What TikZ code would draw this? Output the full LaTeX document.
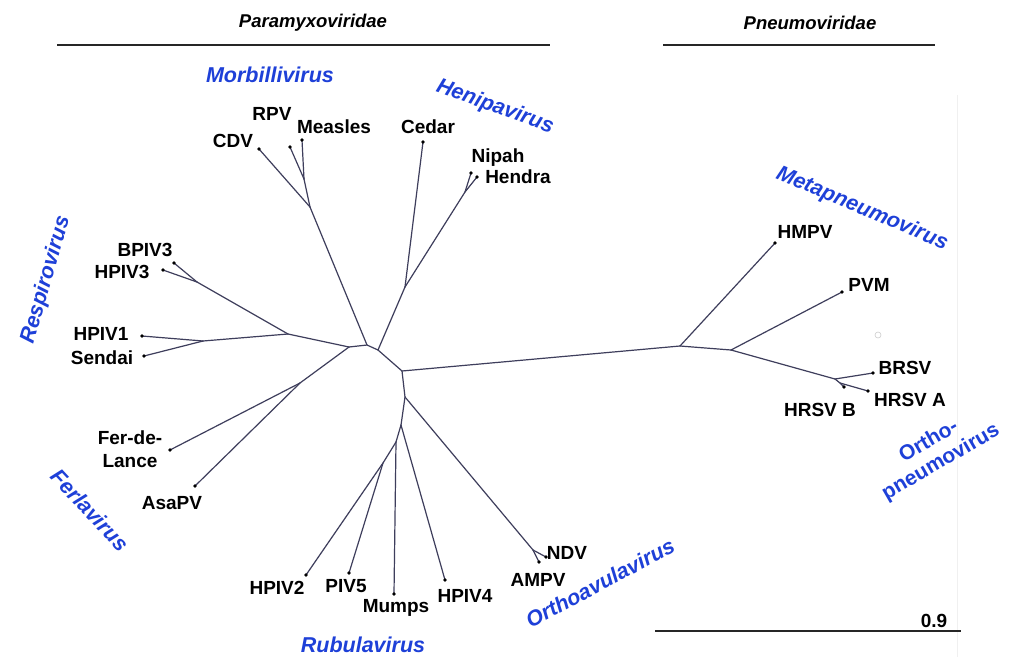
\documentclass[tikz,border=0pt]{standalone}
\usepackage{fontspec}
\setmainfont{Liberation Sans}
\definecolor{genusblue}{RGB}{30,64,216}
\definecolor{branchcol}{RGB}{62,62,92}
\begin{document}
\begin{tikzpicture}[x=1pt,y=-1pt,
  br/.style={draw=branchcol,line width=1.2pt,line cap=round,line join=round},
  leaflab/.style={font=\fontsize{19}{23}\selectfont\bfseries,inner sep=0pt,align=center},
  genus/.style={font=\fontsize{21.5}{24}\selectfont\bfseries\itshape,text=genusblue,inner sep=0pt,align=center},
  genusup/.style={font=\fontsize{21}{24}\selectfont\bfseries,text=genusblue,inner sep=0pt,align=center},
  family/.style={font=\fontsize{18.5}{22}\selectfont\bfseries\itshape,inner sep=0pt},
  rule/.style={draw=black!85,line width=1.6pt}]
\useasboundingbox (0,0) rectangle (1013,657);
\fill[white] (0,0) rectangle (1013,657);
\draw[black!6,line width=0.8pt] (957,95) -- (957,657);

% family headers
\node[family] (para) at (313,23) {Paramyxoviridae};
\coordinate (paraL) at (57,45); \coordinate (paraR) at (550,45);
\draw[rule] (paraL) -- (paraR);
\node[family] (pneu) at (810,23) {Pneumoviridae};
\coordinate (pneuL) at (663,45); \coordinate (pneuR) at (935,45);
\draw[rule] (pneuL) -- (pneuR);

% internal nodes
\coordinate (m0) at (349,347);
\coordinate (mb) at (367,345);
\coordinate (hb) at (378,350);
\coordinate (c0) at (402,371);
\coordinate (n1) at (405,397);
\coordinate (r0) at (288,334);
\coordinate (r1) at (197,282);
\coordinate (r2) at (203,341);
\coordinate (f0) at (300,383);
\coordinate (mo1) at (310,207);
\coordinate (mo2) at (304,179);
\coordinate (he1) at (405,287);
\coordinate (he2) at (465,192);
\coordinate (ru1) at (401,425);
\coordinate (ru2) at (396,442);
\coordinate (ru3) at (383,463);
\coordinate (av1) at (533,550);
\coordinate (p0) at (680,346);
\coordinate (p1) at (731,350);
\coordinate (p2) at (835,379);
\coordinate (p3) at (840,383);

% leaves
\coordinate (cdv) at (259,149);
\coordinate (rpv) at (290,147);
\coordinate (measles) at (302,140);
\coordinate (cedar) at (423,142);
\coordinate (nipah) at (471,173);
\coordinate (hendra) at (477,177);
\coordinate (bpiv3) at (174,263);
\coordinate (hpiv3) at (163,270);
\coordinate (hpiv1) at (142,336);
\coordinate (sendai) at (144,356);
\coordinate (fdl) at (170,450);
\coordinate (asapv) at (195,486);
\coordinate (hpiv2) at (306,575);
\coordinate (piv5) at (349,573);
\coordinate (mumps) at (394,594);
\coordinate (hpiv4) at (445,580);
\coordinate (ndv) at (546,557);
\coordinate (ampv) at (539,562);
\coordinate (hmpv) at (775,243);
\coordinate (pvm) at (842,292);
\coordinate (brsv) at (873,373);
\coordinate (hrsva) at (868,391);
\coordinate (hrsvb) at (844,387);

% branches
\draw[br] (m0) -- (mb) -- (hb) -- (c0) -- (n1);
\draw[br] (m0) -- (r0);
\draw[br] (r0) -- (r1); \draw[br] (r1) -- (bpiv3); \draw[br] (r1) -- (hpiv3);
\draw[br] (r0) -- (r2); \draw[br] (r2) -- (hpiv1); \draw[br] (r2) -- (sendai);
\draw[br] (m0) -- (f0); \draw[br] (f0) -- (fdl); \draw[br] (f0) -- (asapv);
\draw[br] (mb) -- (mo1); \draw[br] (mo1) -- (cdv); \draw[br] (mo1) -- (mo2);
\draw[br] (mo2) -- (rpv); \draw[br] (mo2) -- (measles);
\draw[br] (hb) -- (he1); \draw[br] (he1) -- (cedar); \draw[br] (he1) -- (he2);
\draw[br] (he2) -- (nipah); \draw[br] (he2) -- (hendra);
\draw[br] (n1) -- (ru1); \draw[br] (ru1) -- (hpiv4); \draw[br] (ru1) -- (ru2);
\draw[br] (ru2) -- (mumps); \draw[br] (ru2) -- (ru3);
\draw[br] (ru3) -- (hpiv2); \draw[br] (ru3) -- (piv5);
\draw[br] (n1) -- (av1); \draw[br] (av1) -- (ndv); \draw[br] (av1) -- (ampv);
\draw[br] (c0) -- (p0); \draw[br] (p0) -- (hmpv); \draw[br] (p0) -- (p1);
\draw[br] (p1) -- (pvm); \draw[br] (p1) -- (p2); \draw[br] (p2) -- (brsv);
\draw[br] (p2) -- (p3); \draw[br] (p3) -- (hrsva); \draw[br] (p3) -- (hrsvb);

% tip dots
\foreach \t in {cdv,rpv,measles,cedar,nipah,hendra,bpiv3,hpiv3,hpiv1,sendai,fdl,asapv,hpiv2,piv5,mumps,hpiv4,ndv,ampv,hmpv,pvm,brsv,hrsva,hrsvb}
  \fill[black] (\t) circle (1.9pt);

% leaf labels
\node[leaflab] (lcdv) at (233,141) {CDV};
\node[leaflab] (lrpv) at (272,114) {RPV};
\node[leaflab] (lmeasles) at (334,127) {Measles};
\node[leaflab] (lcedar) at (428,127) {Cedar};
\node[leaflab] (lnipah) at (498,158) {Nipah};
\node[leaflab] (lhendra) at (518,177) {Hendra};
\node[leaflab] (lbpiv3) at (145,250) {BPIV3};
\node[leaflab] (lhpiv3) at (122,272) {HPIV3};
\node[leaflab] (lhpiv1) at (101,334) {HPIV1};
\node[leaflab] (lsendai) at (102,358) {Sendai};
\node[leaflab] (lfdl) at (130,449) {Fer-de-\\Lance};
\node[leaflab] (lasapv) at (172,503) {AsaPV};
\node[leaflab] (lhpiv2) at (277,588) {HPIV2};
\node[leaflab] (lpiv5) at (346,586) {PIV5};
\node[leaflab] (lmumps) at (396,608) {Mumps};
\node[leaflab] (lhpiv4) at (465,596) {HPIV4};
\node[leaflab] (lndv) at (567,553) {NDV};
\node[leaflab] (lampv) at (538,580) {AMPV};
\node[leaflab] (lhmpv) at (805,232) {HMPV};
\node[leaflab] (lpvm) at (869,285) {PVM};
\node[leaflab] (lbrsv) at (905,368) {BRSV};
\node[leaflab] (lhrsva) at (910,400) {HRSV A};
\node[leaflab] (lhrsvb) at (820,410) {HRSV B};

% genus labels
\node[genus] (gmorb) at (270,75) {Morbillivirus};
\node[genus,rotate=-20] (ghen) at (495,107) {Henipavirus};
\node[genus,rotate=-23] (gmeta) at (862,209) {Metapneumovirus};
\node[genus,rotate=74] (gresp) at (46,280) {Respirovirus};
\node[genus,rotate=-47] (gferl) at (90,510) {Ferlavirus};
\node[genus,rotate=28] (gavul) at (600,583) {Orthoavulavirus};
\node[genus] (grub) at (363,645) {Rubulavirus};
\node[genusup,rotate=30] (gorth) at (935,452) {Ortho-\\pneumovirus};

% stray mark
\draw[black!20,line width=0.6pt] (878,335) circle (3pt);

% scale bar
\coordinate (sbL) at (655,631); \coordinate (sbR) at (961,631);
\draw[rule] (sbL) -- (sbR);
\node[leaflab] (sblab) at (934,621) {0.9};
\end{tikzpicture}
\end{document}
